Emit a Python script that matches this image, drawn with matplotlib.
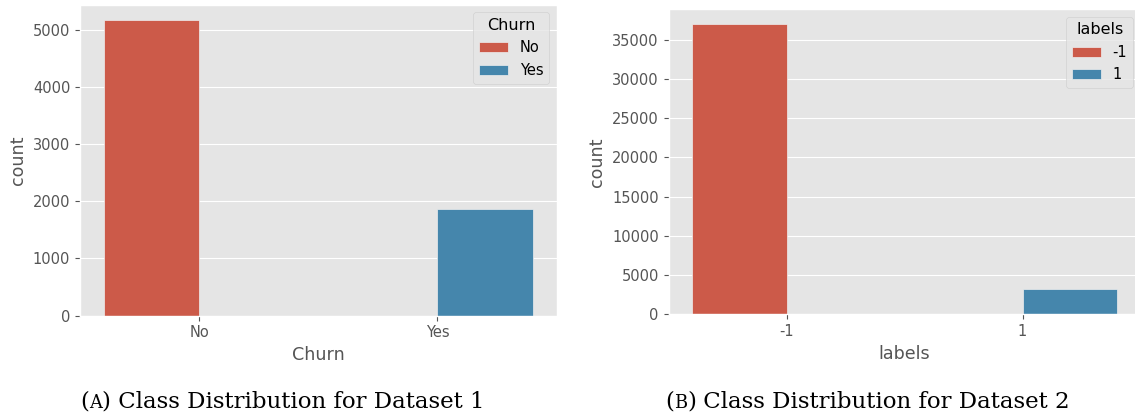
import matplotlib
matplotlib.use("Agg")
import matplotlib.pyplot as plt
import seaborn as sns

# Class counts for the two datasets
churn_classes = ["No", "Yes"]
churn_counts = [5174, 1869]

label_classes = ["-1", "1"]
label_counts = [37000, 3180]

plt.style.use("ggplot")
plt.rcParams["font.family"] = ["DejaVu Sans"]
plt.rcParams["font.size"] = 10.5

base_colors = ["#E24A33", "#348ABD"]
colors = [sns.desaturate(c, 0.75) for c in base_colors]

fig = plt.figure(figsize=(11.35, 4.18), dpi=100)
ax1 = fig.add_axes([80 / 1135, (418 - 315.5) / 418, 476.5 / 1135, 310.5 / 418])
ax2 = fig.add_axes([668.5 / 1135, (418 - 314.3) / 418, 472 / 1135, 305 / 418])


def countplot(ax, classes, counts, name):
    n = len(classes)
    width = 0.8 / n
    for j, (cls, cnt) in enumerate(zip(classes, counts)):
        offset = -0.4 + width * (j + 0.5)
        heights = [cnt if i == j else 0 for i in range(n)]
        ax.bar([i + offset for i in range(n)], heights, width=width,
               color=colors[j], edgecolor="#EEEEEE", linewidth=0.5, label=cls)
    ax.set_xticks(range(n))
    ax.set_xticklabels(classes)
    ax.set_xlim(-0.5, n - 0.5)
    ax.xaxis.grid(False)
    ax.set_xlabel(name)
    ax.set_ylabel("count")
    ax.legend(title=name, loc="upper right", fontsize=10.5, title_fontsize=11.5)


countplot(ax1, churn_classes, churn_counts, "Churn")
countplot(ax2, label_classes, label_counts, "labels")

# Sub-figure captions with a small-caps letter
fig.canvas.draw()
renderer = fig.canvas.get_renderer()
cap_size = 16.5
serif = ["DejaVu Serif"]


def caption(x_px, letter, rest):
    y = (418 - 407.5) / 418
    x = x_px
    for txt, size in [("(", cap_size), (letter, cap_size * 0.78),
                      (")", cap_size), (" " + rest, cap_size)]:
        t = fig.text(x / 1135, y, txt, fontsize=size, family=serif,
                     color="black", va="baseline", ha="left")
        x += t.get_window_extent(renderer).width


caption(80, "A", "Class Distribution for Dataset 1")
caption(665, "B", "Class Distribution for Dataset 2")

fig.savefig("out.png", dpi=100)
